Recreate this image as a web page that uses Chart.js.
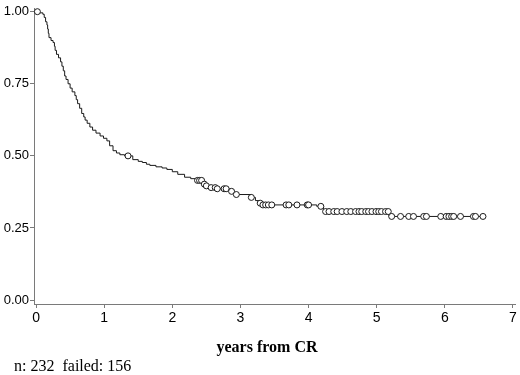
<!DOCTYPE html>
<html lang="en">
<head>
<meta charset="UTF-8">
<title>years from CR</title>
<script src="https://cdn.jsdelivr.net/npm/chart.js"></script>
<style>
  body { margin: 0; background: #fff; }
</style>
</head>
<body>
<canvas id="chart" width="520" height="375"></canvas>
<script>
// Kaplan-Meier step points: time (years) and survival after the drop
const stepTimes = [0, 0.05, 0.10, 0.12, 0.14, 0.16, 0.17, 0.18, 0.19, 0.22, 0.25, 0.27, 0.28, 0.30, 0.33,
  0.36, 0.38, 0.40, 0.42, 0.44, 0.47, 0.50, 0.53, 0.57, 0.59, 0.61, 0.64, 0.67, 0.70, 0.72, 0.75,
  0.79, 0.83, 0.88, 0.94, 0.99, 1.04, 1.08, 1.13, 1.18, 1.23, 1.30, 1.42, 1.50, 1.56, 1.62, 1.67,
  1.76, 1.85, 1.92, 2.00, 2.08, 2.18, 2.27, 2.35, 2.44, 2.50, 2.54, 2.65, 2.86, 2.90, 2.94, 3.16,
  3.22, 3.27, 3.32, 4.12, 4.22, 5.18, 6.57];
const stepSurv = [1.000, 0.996, 0.991, 0.980, 0.965, 0.954, 0.940, 0.925, 0.910, 0.900, 0.893, 0.880, 0.866, 0.852, 0.840,
  0.826, 0.811, 0.795, 0.777, 0.765, 0.750, 0.735, 0.722, 0.709, 0.695, 0.681, 0.665, 0.647, 0.635, 0.624, 0.613,
  0.600, 0.589, 0.579, 0.569, 0.561, 0.552, 0.535, 0.518, 0.510, 0.504, 0.500, 0.487, 0.481, 0.477, 0.471, 0.467,
  0.462, 0.458, 0.453, 0.445, 0.436, 0.426, 0.421, 0.415, 0.402, 0.396, 0.390, 0.386, 0.377, 0.370, 0.366, 0.356,
  0.345, 0.336, 0.330, 0.325, 0.307, 0.290, 0.290];

// censored observations (years)
const censorTimes = [0.02, 1.35,
  2.37, 2.40, 2.43, 2.47, 2.50, 2.57, 2.63, 2.66, 2.76, 2.79, 2.87, 2.94, 3.16,
  3.29, 3.33, 3.37, 3.41, 3.46, 3.67, 3.71, 3.83, 3.98, 4.00, 4.18,
  4.25, 4.30, 4.37, 4.42, 4.49, 4.56, 4.62, 4.69, 4.74, 4.78, 4.84, 4.88, 4.93, 4.99, 5.03, 5.07, 5.13, 5.17,
  5.22, 5.35, 5.47, 5.54, 5.69, 5.73, 5.94, 6.02, 6.06, 6.10, 6.13, 6.23, 6.42, 6.45, 6.56];

const xTicks = [0, 1, 2, 3, 4, 5, 6, 7];
const yTicks = [0, 0.25, 0.5, 0.75, 1];
const xTitle = 'years from CR';
const footNote = 'n: 232  failed: 156';

const axisColor = '#7a7a7a';
const lineColor = '#1a1a1a';

function survAt(t) {
  let s = stepSurv[0];
  for (let i = 0; i < stepTimes.length; i++) {
    if (stepTimes[i] <= t) s = stepSurv[i];
  }
  return s;
}

const curve = stepTimes.map((t, i) => ({ x: t, y: stepSurv[i] }));
const censors = censorTimes.map(t => ({ x: t, y: survAt(t) }));

const textPlugin = {
  id: 'texts',
  afterDraw(chart) {
    const ctx = chart.ctx;
    ctx.save();
    ctx.fillStyle = '#000';
    ctx.textBaseline = 'alphabetic';
    ctx.font = 'bold 16px "Liberation Serif", "Times New Roman", serif';
    ctx.textAlign = 'center';
    ctx.fillText(xTitle, 267, 352);
    ctx.font = '16px "Liberation Serif", "Times New Roman", serif';
    ctx.textAlign = 'left';
    ctx.fillText(footNote, 14, 371);
    ctx.restore();
  }
};

new Chart(document.getElementById('chart'), {
  type: 'scatter',
  data: {
    datasets: [
      {
        data: censors,
        showLine: false,
        pointRadius: 3,
        pointBorderWidth: 1,
        pointBackgroundColor: '#fff',
        pointBorderColor: lineColor,
        clip: false
      },
      {
        data: curve,
        showLine: true,
        stepped: true,
        borderColor: lineColor,
        borderWidth: 1,
        pointRadius: 0,
        fill: false,
        clip: false
      }
    ]
  },
  options: {
    responsive: false,
    animation: false,
    layout: { padding: { top: 3.6, right: 3, left: 0, bottom: 0 } },
    plugins: { legend: { display: false }, tooltip: { enabled: false } },
    scales: {
      x: {
        type: 'linear',
        min: -0.03,
        max: 7.03,
        afterBuildTicks: s => { s.ticks = xTicks.map(v => ({ value: v })); },
        afterFit: s => { s.height = 71; },
        grid: { drawOnChartArea: false, drawTicks: true, tickLength: 4, color: axisColor },
        border: { display: true, color: axisColor, width: 1 },
        ticks: {
          color: '#000',
          padding: 2,
          maxRotation: 0,
          font: { family: '"Liberation Sans", Arial, sans-serif', size: 14 },
          callback: v => String(v)
        }
      },
      y: {
        type: 'linear',
        min: -0.0136,
        max: 1.01,
        afterBuildTicks: s => { s.ticks = yTicks.map(v => ({ value: v })); },
        afterFit: s => { s.width = 34; },
        grid: { drawOnChartArea: false, drawTicks: true, tickLength: 4, color: axisColor },
        border: { display: true, color: axisColor, width: 1 },
        ticks: {
          color: '#000',
          padding: 1,
          font: { family: '"Liberation Sans", Arial, sans-serif', size: 13 },
          callback: v => v.toFixed(2)
        }
      }
    }
  },
  plugins: [textPlugin]
});
</script>
</body>
</html>
